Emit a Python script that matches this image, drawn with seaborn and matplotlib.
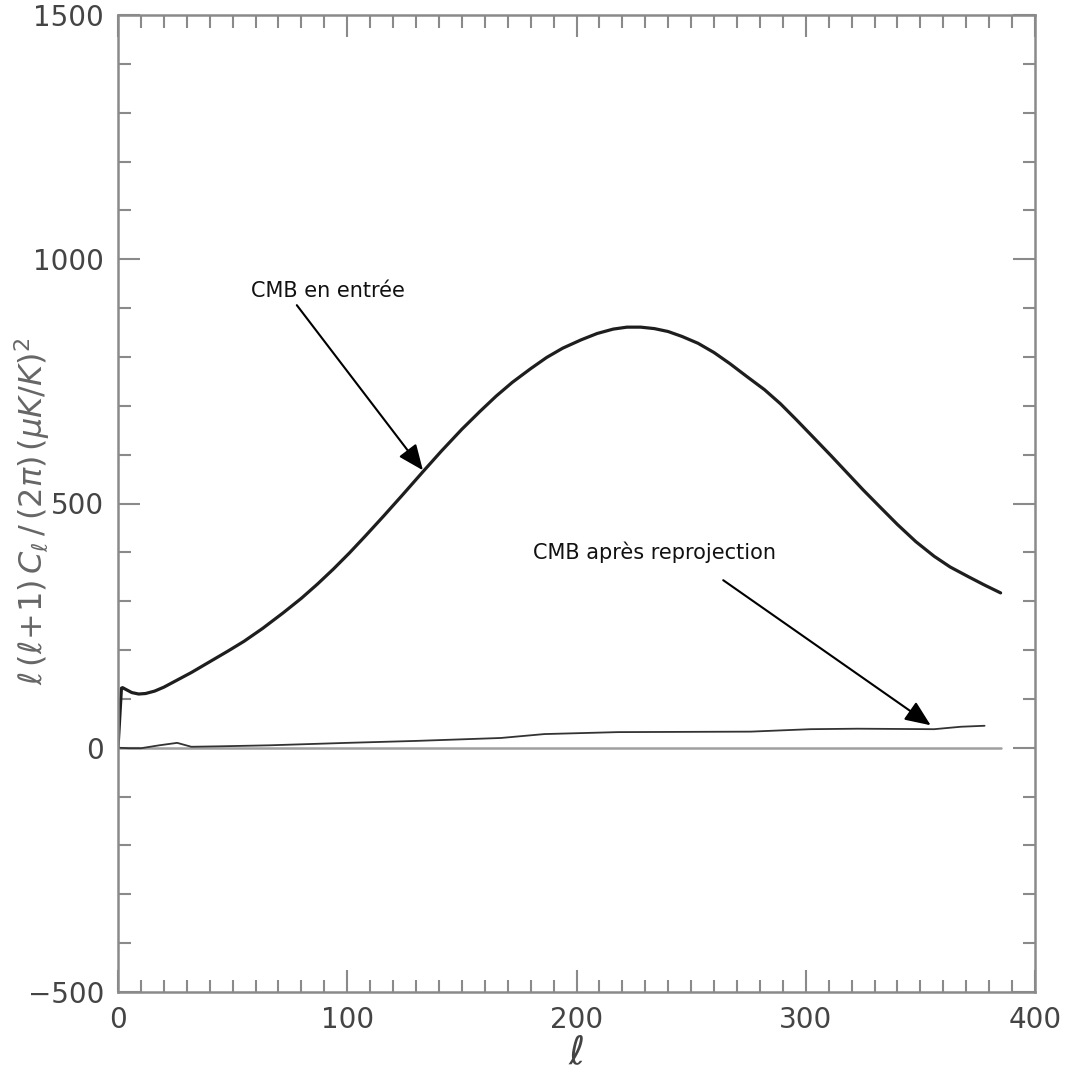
import matplotlib
matplotlib.use("Agg")
import matplotlib.pyplot as plt
import seaborn as sns
import numpy as np
import pandas as pd
from matplotlib.ticker import MultipleLocator

# ---- data ----
ell_in = [0, 1.5, 2, 4, 6, 9, 12, 16, 20, 26, 32, 40, 48, 55, 63, 72, 80, 87, 94,
          101, 108, 116, 124, 133, 141, 150, 158, 165, 172, 180, 187, 194, 202,
          209, 216, 222, 228, 234, 240, 246, 253, 260, 267, 274, 282, 289, 296,
          303, 311, 318, 325, 333, 340, 348, 356, 363, 371, 378, 385]
cl_in = [0, 122, 123, 118, 113, 110, 111, 116, 124, 139, 154, 176, 198, 218, 244,
         276, 306, 335, 366, 399, 434, 475, 517, 565, 607, 652, 689, 720, 748,
         776, 799, 818, 835, 848, 857, 861, 861, 858, 852, 842, 828, 809, 786,
         761, 733, 704, 671, 637, 598, 563, 528, 490, 457, 422, 392, 370, 350,
         333, 317]

ell_out = [0, 5, 10, 18, 25.8, 32, 45, 66, 100, 130, 167, 186, 218, 276, 302,
           322.5, 356, 367.7, 378]
cl_out = [0, -1, -1, 5, 10, 2, 3, 5, 10, 14, 20, 28, 32, 33, 38, 39, 38, 43, 45]

zero_ell = [0, 385]
zero_val = [0, 0]

label_in = "CMB en entrée"
label_out = "CMB après reprojection"

sns.set_theme(style="ticks")
plt.rcParams['font.family'] = ['DejaVu Sans']

fig = plt.figure(figsize=(10.66, 10.83), dpi=100)
ax = fig.add_axes([118/1066, 1-992/1083, (1035-118)/1066, (992-15)/1083])

sns.lineplot(x=zero_ell, y=zero_val, ax=ax, color="#a0a0a0", linewidth=1.8,
             sort=False, estimator=None)
sns.lineplot(x=ell_out, y=cl_out, ax=ax, color="#333333", linewidth=1.3,
             sort=False, estimator=None)
sns.lineplot(x=ell_in, y=cl_in, ax=ax, color="#1e1e1e", linewidth=2.3,
             sort=False, estimator=None)

ax.set_xlim(0, 400)
ax.set_ylim(-500, 1500)
ax.xaxis.set_major_locator(MultipleLocator(100))
ax.xaxis.set_minor_locator(MultipleLocator(10))
ax.yaxis.set_major_locator(MultipleLocator(500))
ax.yaxis.set_minor_locator(MultipleLocator(100))

gray = "#8a8a8a"
for s in ax.spines.values():
    s.set_visible(True)
    s.set_color(gray)
    s.set_linewidth(1.8)
ax.tick_params(which="both", direction="in", top=True, right=True,
               color=gray, width=1.5)
ax.tick_params(which="major", length=16, labelsize=20, labelcolor="#444444", pad=10)
ax.tick_params(which="minor", length=9)

ax.set_xlabel(r"$\ell$", fontsize=28, color="#444444", labelpad=0)
ax.set_ylabel(r"$\ell\,(\ell\!+\!1)\,C_\ell\,/\,(2\pi)\,(\mu K/K)^2$",
              fontsize=23, color="#666666")
ax.yaxis.set_label_coords(-0.072, 0.492)

arrowprops = dict(arrowstyle="-|>,head_length=1.3,head_width=0.55",
                  color="black", lw=1.5, shrinkA=0, shrinkB=0)
ax.annotate("", xy=(133, 568), xytext=(78, 906), arrowprops=arrowprops)
ax.annotate("", xy=(354.5, 46), xytext=(264, 343), arrowprops=arrowprops)

ax.text(58, 935, label_in, fontsize=15, color="#111111", va="center", ha="left")
ax.text(181, 400, label_out, fontsize=15, color="#111111", va="center", ha="left")

fig.savefig("out.png", dpi=100, facecolor="white")
